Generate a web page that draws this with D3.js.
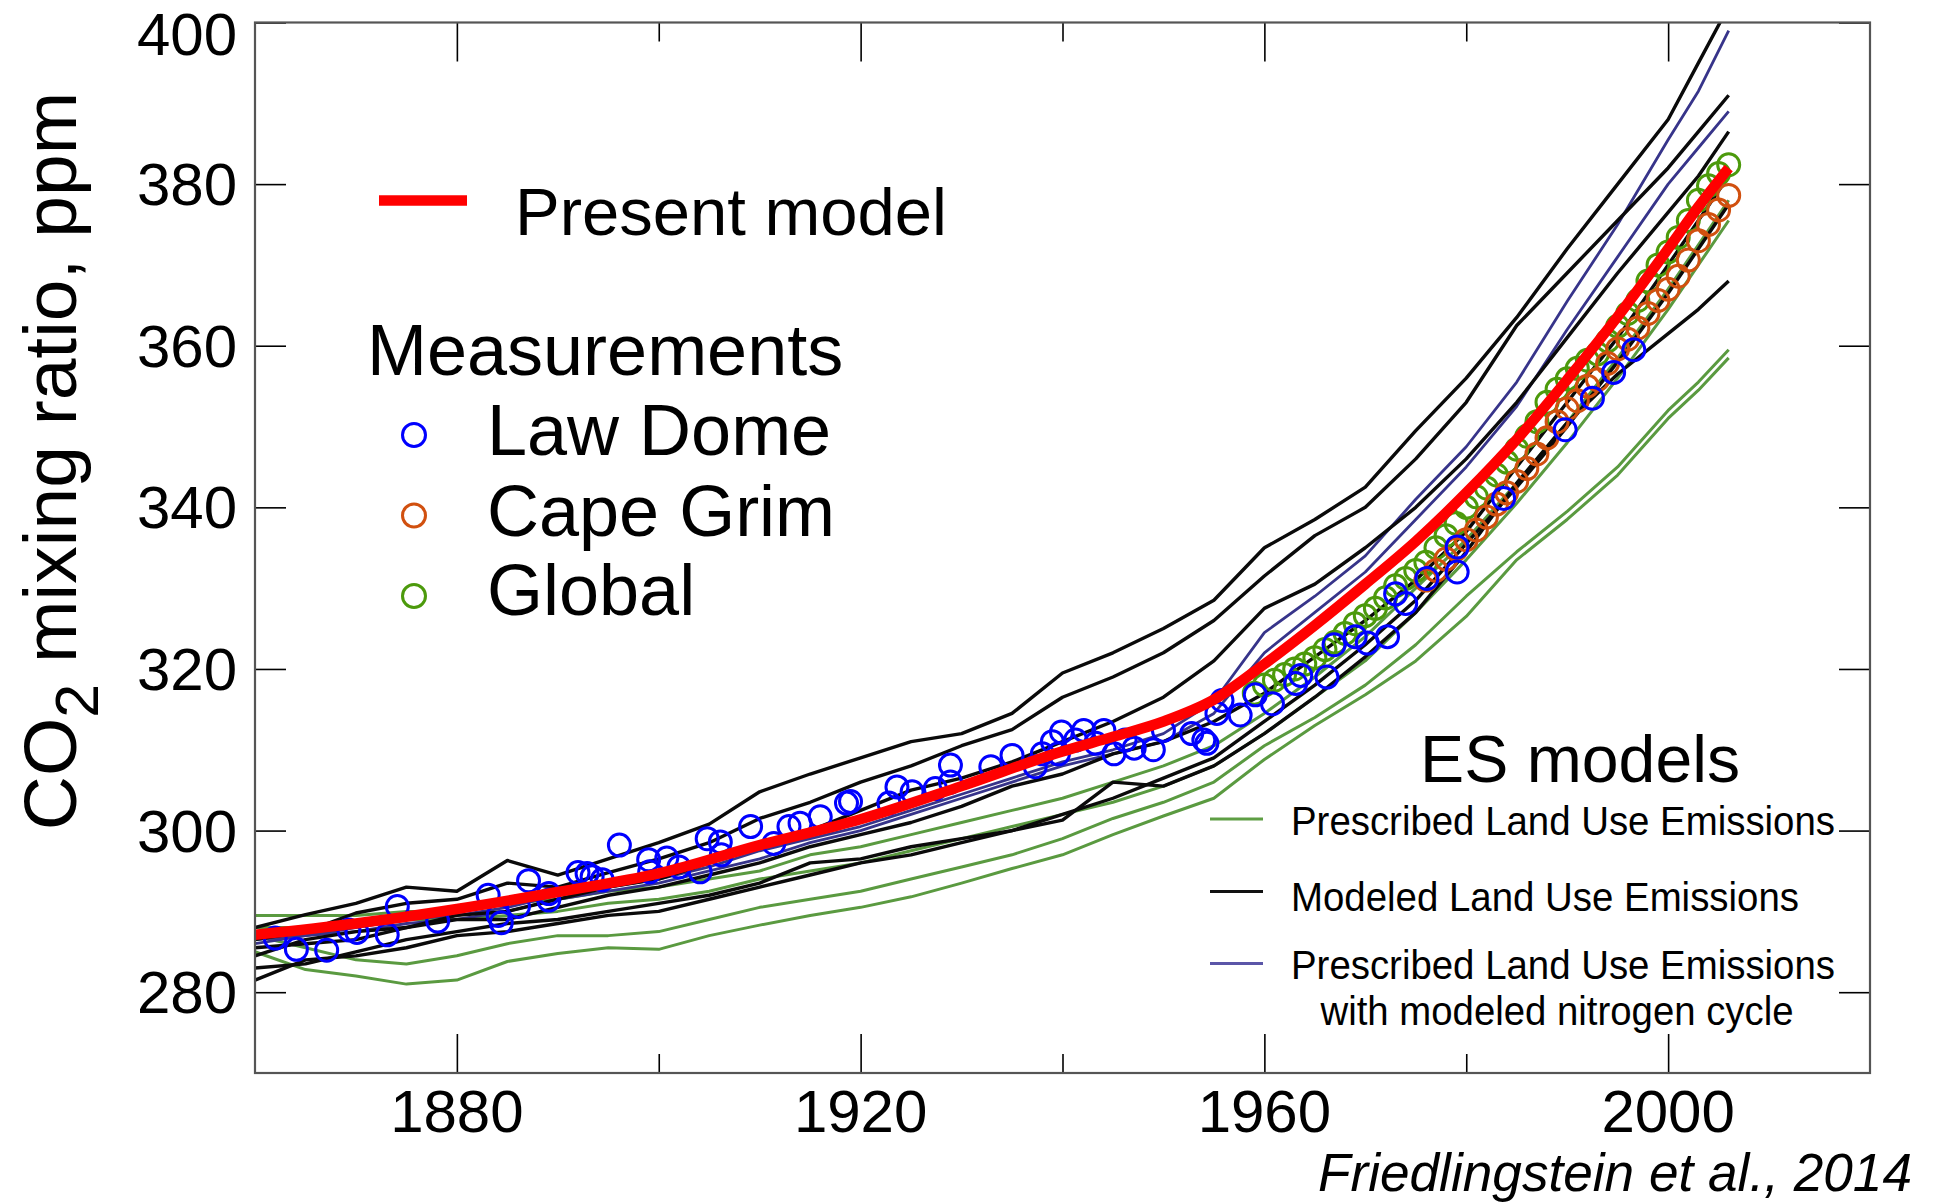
<!DOCTYPE html>
<html>
<head>
<meta charset="utf-8">
<title>CO2 mixing ratio</title>
<script src="https://d3js.org/d3.v7.min.js"></script>
<style>
  body { margin: 0; background: #fff; }
  text { font-family: "Liberation Sans", Arial, Helvetica, sans-serif; fill: #000; }
</style>
</head>
<body>
<script>
// ---- data ----
var yTicks = [280, 300, 320, 340, 360, 380, 400];
var xMajor = [1880, 1920, 1960, 2000];
var xMinor = [1900, 1940, 1980];

// present model (thick red)
var modelYears = [1860, 1870, 1880, 1890, 1900, 1910, 1920, 1930, 1940, 1945, 1950, 1955, 1960, 1965, 1970, 1975, 1980, 1985, 1990, 1995, 2000, 2003, 2006];
var modelPpm = [287.1, 288.5, 290.3, 292.4, 294.7, 298.2, 301.4, 305.5, 309.8, 311.6, 313.5, 316.2, 320.6, 325.4, 330.5, 335.8, 341.8, 348.4, 355.8, 363.6, 372.0, 377.2, 382.0];

// ES model runs, sampled at these years
var esYears = [1860, 1865, 1870, 1875, 1880, 1885, 1890, 1895, 1900, 1905, 1910, 1915, 1920, 1925, 1930, 1935, 1940, 1945, 1950, 1955, 1960, 1965, 1970, 1975, 1980, 1985, 1990, 1995, 2000, 2003, 2006];

var prescribedRuns = [
  [285.0, 282.8, 282.0, 281.0, 281.5, 283.8, 284.8, 285.5, 285.3, 287.0, 288.3, 289.5, 290.5, 291.8, 293.5, 295.3, 297.0, 299.5, 301.8, 304.0, 308.8, 313.0, 316.8, 321.0, 326.5, 333.5, 338.5, 344.0, 351.0, 354.5, 358.5],
  [287.0, 285.5, 284.0, 283.5, 284.5, 286.0, 287.0, 287.0, 287.5, 289.0, 290.5, 291.5, 292.5, 294.0, 295.5, 297.0, 299.0, 301.5, 303.5, 306.0, 310.5, 314.0, 318.0, 323.0, 329.0, 334.5, 339.5, 345.0, 352.0, 355.5, 359.5],
  [289.5, 289.5, 289.5, 290.0, 290.0, 291.0, 291.5, 292.5, 293.0, 294.0, 295.0, 297.0, 298.0, 299.5, 301.0, 302.5, 304.0, 306.0, 308.0, 310.5, 314.5, 319.0, 324.0, 330.0, 336.0, 343.0, 350.5, 358.5, 367.0, 372.5, 378.0],
  [288.0, 288.0, 288.5, 289.0, 289.0, 289.5, 290.0, 291.0, 291.5, 292.5, 294.0, 295.0, 296.0, 297.5, 299.0, 300.5, 302.0, 303.5, 305.5, 308.0, 312.0, 316.5, 321.0, 327.0, 333.5, 340.5, 348.0, 356.0, 364.5, 370.0, 375.5]
];

var nitrogenRuns = [
  [286.0, 287.0, 288.0, 289.0, 289.5, 290.5, 292.0, 293.0, 294.0, 295.5, 297.5, 299.0, 300.5, 302.5, 304.5, 306.5, 308.5, 310.0, 312.0, 316.0, 324.5, 329.0, 334.0, 341.0, 347.5, 355.5, 365.5, 375.0, 385.5, 391.5, 399.0],
  [286.5, 287.0, 287.5, 288.5, 289.0, 290.0, 291.5, 292.5, 293.5, 295.0, 296.5, 298.5, 300.0, 302.0, 304.0, 306.0, 308.0, 309.5, 311.0, 314.5, 322.0, 327.0, 332.0, 338.5, 345.0, 352.5, 362.0, 371.0, 380.0, 384.5, 389.0]
];

var modeledRuns = [
  [288.0, 289.6, 291.0, 293.0, 292.5, 296.3, 294.5, 296.5, 298.5, 300.8, 304.8, 307.0, 309.0, 311.0, 312.0, 314.5, 319.5, 322.0, 325.0, 328.5, 335.0, 338.5, 342.5, 349.5, 356.0, 363.5, 372.0, 380.0, 388.0, 395.0, 402.0],
  [286.5, 287.5, 289.8, 291.0, 291.5, 293.5, 293.0, 294.8, 296.5, 298.5, 301.5, 303.5, 306.0, 308.0, 310.5, 312.5, 316.5, 319.0, 322.0, 326.0, 331.5, 336.5, 340.0, 346.0, 353.0, 362.5, 369.0, 375.5, 382.0, 386.5, 391.0],
  [284.5, 286.5, 287.5, 288.0, 289.5, 290.0, 291.5, 293.0, 294.0, 296.0, 298.0, 300.0, 302.5, 305.0, 306.5, 308.5, 311.0, 313.5, 316.5, 321.0, 327.5, 330.5, 335.0, 340.0, 346.0, 353.0, 361.0, 369.0, 376.5, 381.0, 386.5],
  [283.0, 283.5, 285.0, 286.5, 287.5, 288.5, 289.0, 290.0, 291.0, 292.0, 293.5, 296.0, 296.5, 298.0, 299.0, 300.0, 301.3, 306.0, 305.5, 308.0, 312.0, 316.5, 321.5, 327.0, 334.5, 343.0, 350.5, 356.5, 361.5, 364.5, 368.0],
  [285.5, 286.0, 286.5, 288.0, 289.0, 289.0, 290.5, 292.0, 293.0, 294.5, 296.0, 298.0, 299.5, 301.0, 303.0, 305.5, 307.0, 309.5, 311.0, 313.5, 317.0, 321.5, 326.0, 331.0, 337.0, 345.0, 353.0, 361.0, 370.0, 375.5, 381.0],
  [281.5, 284.0, 284.5, 285.5, 287.0, 287.5, 288.5, 289.5, 290.0, 291.5, 293.0, 294.5, 296.0, 297.0, 298.5, 300.0, 302.0, 304.0, 306.5, 309.0, 313.5, 318.0, 323.0, 328.5, 335.5, 342.5, 350.0, 358.0, 366.5, 372.0, 377.5]
];

// measurements
var lawDome = [
  [1862.0, 286.7], [1864.1, 285.3], [1867.1, 285.2], [1869.3, 287.7], [1870.1, 287.4], [1873.1, 287.1],
  [1874.1, 290.6], [1878.1, 288.8], [1883.1, 292.0], [1884.1, 289.5], [1884.4, 288.6], [1886.1, 290.6],
  [1887.1, 293.8], [1889.1, 292.2], [1889.1, 291.4], [1892.0, 294.8], [1892.9, 294.7], [1893.4, 294.3],
  [1894.4, 293.9], [1896.1, 298.2], [1899.0, 296.4], [1899.1, 294.9], [1900.8, 296.6], [1902.0, 295.5],
  [1904.1, 294.9], [1904.8, 299.0], [1906.1, 298.6], [1906.2, 297.0], [1909.1, 300.5], [1911.4, 298.4],
  [1912.9, 300.5], [1914.0, 300.9], [1916.0, 301.7], [1918.6, 303.4], [1919.0, 303.6], [1922.8, 303.4],
  [1923.6, 305.4], [1925.1, 304.8], [1927.4, 305.2], [1928.9, 308.1], [1928.9, 306.0], [1932.9, 307.9],
  [1935.0, 309.3], [1937.3, 307.9], [1938.0, 309.5], [1939.0, 311.0], [1939.6, 309.5], [1939.9, 312.2],
  [1941.3, 311.2], [1942.1, 312.4], [1943.3, 310.8], [1944.1, 312.4], [1945.1, 309.5], [1946.2, 311.2],
  [1947.1, 310.2], [1949.0, 310.0], [1950.0, 312.4], [1952.8, 312.0], [1954.0, 311.2], [1954.3, 310.8],
  [1955.3, 314.5], [1955.8, 316.1], [1957.6, 314.3], [1959.1, 316.8], [1960.8, 315.7], [1963.1, 318.2],
  [1963.6, 319.2], [1966.2, 319.0], [1966.9, 323.0], [1969.0, 324.0], [1970.2, 323.2], [1972.2, 324.0],
  [1973.0, 329.3], [1974.0, 328.1], [1976.1, 331.2], [1979.1, 332.0], [1979.1, 335.1], [1983.7, 341.1],
  [1989.8, 349.6], [1992.5, 353.5], [1994.6, 356.7], [1996.6, 359.5]
];

var capeGrimYears = d3.range(1976, 2007);
var capeGrimPpm = [331.0, 332.2, 333.6, 334.8, 336.0, 337.2, 338.8, 340.4, 341.8, 343.2, 344.8, 346.6, 348.6, 350.6, 352.2, 353.2,
  355.0, 355.8, 357.8, 359.6, 360.8, 362.2, 364.0, 365.6, 367.0, 368.6, 370.6, 373.0, 375.0, 376.8, 378.6];

var globalYears = d3.range(1959, 2007);
var globalPpm = [317.0, 318.0, 318.6, 319.3, 320.0, 320.6, 321.4, 322.4, 323.3, 324.4, 325.6, 326.6, 327.5, 328.8, 330.3, 331.2,
  332.2, 333.2, 335.0, 336.5, 338.0, 340.0, 341.3, 342.4, 344.0, 345.6, 347.2, 348.8, 350.6, 353.0, 354.6, 355.9,
  357.2, 358.2, 359.0, 360.6, 362.4, 364.0, 365.6, 368.0, 370.0, 371.6, 373.4, 375.5, 378.0, 379.8, 381.3, 382.4];

// ---- layout ----
var width = 1934, height = 1204;
var plotLeft = 255, plotRight = 1870, plotTop = 22.5, plotBottom = 1073;

var svg = d3.select('body').append('svg').attr('width', width).attr('height', height);

var x = d3.scaleLinear().domain([1860, 2020]).range([plotLeft, plotRight]);
var y = d3.scaleLinear().domain([270, 400]).range([plotBottom, plotTop]);

svg.append('clipPath').attr('id', 'plot')
  .append('rect').attr('x', plotLeft).attr('y', plotTop)
  .attr('width', plotRight - plotLeft).attr('height', plotBottom - plotTop);

var line = d3.line().x(function(d) {return x(d[0]);}).y(function(d) {return y(d[1]);});
var smooth = d3.line().x(function(d) {return x(d[0]);}).y(function(d) {return y(d[1]);}).curve(d3.curveMonotoneX);
function pair(years, vals) {
  return years.map(function(yr, i) {return [yr, vals[i]];});
}

var g = svg.append('g').attr('clip-path', 'url(#plot)');

// model runs
prescribedRuns.forEach(function(r) {
  g.append('path').attr('d', line(pair(esYears, r)))
    .attr('fill', 'none').attr('stroke', '#5a9a40').attr('stroke-width', 3)
    .attr('stroke-linejoin', 'round');
});
nitrogenRuns.forEach(function(r) {
  g.append('path').attr('d', line(pair(esYears, r)))
    .attr('fill', 'none').attr('stroke', '#37348a').attr('stroke-width', 2.8)
    .attr('stroke-linejoin', 'round');
});
modeledRuns.forEach(function(r) {
  g.append('path').attr('d', line(pair(esYears, r)))
    .attr('fill', 'none').attr('stroke', '#0a0a0a').attr('stroke-width', 3.4)
    .attr('stroke-linejoin', 'round');
});

// measurements
function rings(data, color) {
  g.append('g').selectAll('circle')
    .data(data)
    .enter()
    .append('circle')
    .attr('cx', function(d) {return x(d[0]);})
    .attr('cy', function(d) {return y(d[1]);})
    .attr('r', 11)
    .attr('fill', 'none')
    .attr('stroke', color)
    .attr('stroke-width', 3);
}
rings(pair(globalYears, globalPpm), '#4c9a0c');
rings(pair(capeGrimYears, capeGrimPpm), '#d1500f');
rings(lawDome, '#0000ff');

// present model
g.append('path').attr('d', smooth(pair(modelYears, modelPpm)))
  .attr('fill', 'none').attr('stroke', '#ff0000').attr('stroke-width', 10.5);

// ---- axes ----
function styleAxis(sel) {
  sel.select('.domain').remove();
  sel.selectAll('.tick line').attr('stroke', '#000').attr('stroke-width', 1.6);
  sel.selectAll('.tick text').remove();
}
svg.append('g').attr('transform', 'translate(' + plotLeft + ',0)')
  .call(d3.axisLeft(y).tickValues(yTicks).tickSizeInner(-31).tickSizeOuter(0)).call(styleAxis);
svg.append('g').attr('transform', 'translate(' + plotRight + ',0)')
  .call(d3.axisRight(y).tickValues(yTicks).tickSizeInner(-31).tickSizeOuter(0)).call(styleAxis);
svg.append('g').attr('transform', 'translate(0,' + plotBottom + ')')
  .call(d3.axisBottom(x).tickValues(xMajor).tickSizeInner(-39).tickSizeOuter(0)).call(styleAxis);
svg.append('g').attr('transform', 'translate(0,' + plotBottom + ')')
  .call(d3.axisBottom(x).tickValues(xMinor).tickSizeInner(-19).tickSizeOuter(0)).call(styleAxis);
svg.append('g').attr('transform', 'translate(0,' + plotTop + ')')
  .call(d3.axisTop(x).tickValues(xMajor).tickSizeInner(-39).tickSizeOuter(0)).call(styleAxis);
svg.append('g').attr('transform', 'translate(0,' + plotTop + ')')
  .call(d3.axisTop(x).tickValues(xMinor).tickSizeInner(-19).tickSizeOuter(0)).call(styleAxis);

svg.append('rect')
  .attr('x', plotLeft).attr('y', plotTop)
  .attr('width', plotRight - plotLeft).attr('height', plotBottom - plotTop)
  .attr('fill', 'none').attr('stroke', '#555').attr('stroke-width', 2.2);

// tick labels
svg.selectAll('.ylab')
  .data(yTicks)
  .enter()
  .append('text')
  .attr('x', 237)
  .attr('y', function(d) {return Math.max(y(d), 34) + 21;})
  .attr('text-anchor', 'end')
  .attr('font-size', 60)
  .text(function(d) {return d;});

svg.selectAll('.xlab')
  .data(xMajor)
  .enter()
  .append('text')
  .attr('x', function(d) {return x(d);})
  .attr('y', 1132)
  .attr('text-anchor', 'middle')
  .attr('font-size', 60)
  .text(function(d) {return d;});

// y axis title
var yt = svg.append('text')
  .attr('transform', 'translate(76,461) rotate(-90)')
  .attr('text-anchor', 'middle')
  .attr('font-size', 75);
yt.append('tspan').text('CO');
yt.append('tspan').attr('font-size', 61).attr('dy', 22).text('2');
yt.append('tspan').attr('dy', -22).text(' mixing ratio, ppm');

// ---- legends ----
svg.append('line').attr('x1', 379).attr('x2', 467).attr('y1', 200.5).attr('y2', 200.5)
  .attr('stroke', '#ff0000').attr('stroke-width', 10.5);
svg.append('text').attr('x', 515).attr('y', 235).attr('font-size', 67).text('Present model');

svg.append('text').attr('x', 367).attr('y', 375).attr('font-size', 72).text('Measurements');

var measLegend = [
  {label: 'Law Dome', color: '#0000ff', cy: 435, base: 455},
  {label: 'Cape Grim', color: '#d1500f', cy: 515.5, base: 535.5},
  {label: 'Global', color: '#4c9a0c', cy: 596, base: 615}
];
measLegend.forEach(function(m) {
  svg.append('circle').attr('cx', 414).attr('cy', m.cy).attr('r', 11.5)
    .attr('fill', 'none').attr('stroke', m.color).attr('stroke-width', 3);
  svg.append('text').attr('x', 487).attr('y', m.base).attr('font-size', 72).text(m.label);
});

svg.append('text').attr('x', 1420).attr('y', 782).attr('font-size', 67)
  .attr('textLength', 320).attr('lengthAdjust', 'spacingAndGlyphs').text('ES models');

var esLegend = [
  {label: 'Prescribed Land Use Emissions', color: '#5e9e44', ly: 819, base: 835, len: 544},
  {label: 'Modeled Land Use Emissions', color: '#111', ly: 891.5, base: 910.5, len: 508},
  {label: 'Prescribed Land Use Emissions', color: '#5b56a8', ly: 963.5, base: 978.5, len: 544}
];
esLegend.forEach(function(e) {
  svg.append('line').attr('x1', 1210).attr('x2', 1263).attr('y1', e.ly).attr('y2', e.ly)
    .attr('stroke', e.color).attr('stroke-width', 3.2);
  svg.append('text').attr('x', 1291).attr('y', e.base).attr('font-size', 41)
    .attr('textLength', e.len).attr('lengthAdjust', 'spacingAndGlyphs').text(e.label);
});
svg.append('text').attr('x', 1557).attr('y', 1025).attr('font-size', 41)
  .attr('text-anchor', 'middle')
  .attr('textLength', 473).attr('lengthAdjust', 'spacingAndGlyphs')
  .text('with modeled nitrogen cycle');

svg.append('text').attr('x', 1318).attr('y', 1191).attr('font-size', 53)
  .attr('font-style', 'italic')
  .attr('textLength', 594).attr('lengthAdjust', 'spacingAndGlyphs')
  .text('Friedlingstein et al., 2014');
</script>
</body>
</html>
